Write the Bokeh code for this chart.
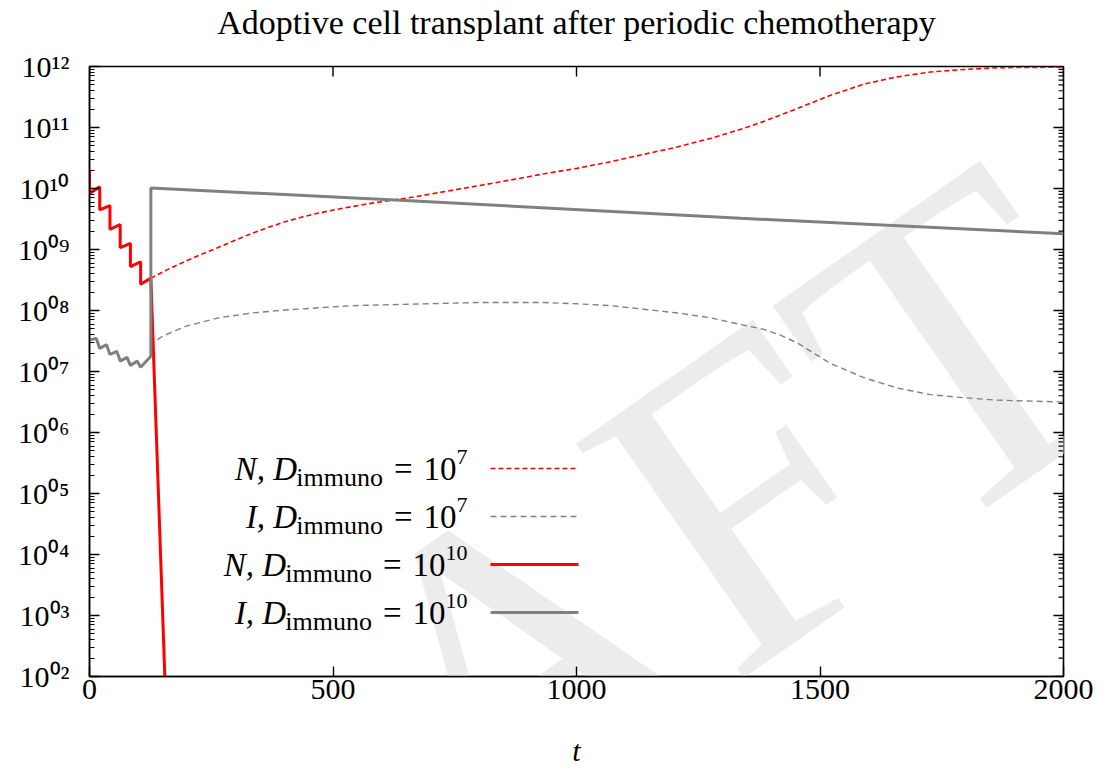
import math
from bokeh.plotting import figure
from bokeh.models import FixedTicker, Label, Arrow, LinearAxis
from bokeh.embed import file_html
from bokeh.resources import INLINE

# ---------------- data ----------------
# periodic chemotherapy phase (doses every 21 days), shared by both runs
t_chemo = [0, 0, 21, 21, 42, 42, 63, 63, 84, 84, 105, 105, 126]
N_chemo = [2.0e10, 8.3e9, 1.07e10, 4.47e9, 5.25e9, 2.14e9, 2.57e9, 1.07e9,
           1.26e9, 5.25e8, 6.3e8, 2.69e8, 3.39e8]
t_I_chemo = [0, 14, 21, 35, 42, 56, 63, 77, 84, 98, 105, 126]
I_chemo = [3.3e7, 3.47e7, 2.4e7, 2.75e7, 1.9e7, 2.14e7, 1.48e7, 1.7e7,
           1.26e7, 1.48e7, 1.17e7, 1.78e7]

# D_immuno = 1e7 after transplant
t_N7_post = [160, 195, 230, 263, 298, 332, 366, 400, 435, 469, 503, 537, 572,
             606, 636, 665, 730, 796, 865, 933, 1001, 1070, 1138, 1207, 1275,
             1337, 1385, 1453, 1522, 1590, 1658, 1727, 1795, 1864, 2000]
N7_post = [4.68e8, 6.31e8, 8.32e8, 1.07e9, 1.41e9, 1.82e9, 2.29e9, 2.82e9,
           3.39e9, 3.94e9, 4.47e9, 5.01e9, 5.62e9, 6.17e9, 6.68e9, 7.24e9,
           8.91e9, 1.10e10, 1.38e10, 1.74e10, 2.14e10, 2.75e10, 3.63e10,
           4.79e10, 6.61e10, 9.33e10, 1.26e11, 2.04e11, 3.39e11, 5.13e11,
           6.76e11, 8.13e11, 8.91e11, 9.55e11, 9.77e11]
t_I7_post = [126, 150, 197, 265, 334, 402, 539, 659, 796, 933, 1001, 1070,
             1138, 1207, 1275, 1337, 1385, 1420, 1453, 1487, 1522, 1590, 1658,
             1727, 1795, 1864, 2000]
I7_post = [2.82e7, 3.80e7, 5.50e7, 7.59e7, 9.12e7, 1.02e8, 1.20e8, 1.27e8,
           1.35e8, 1.35e8, 1.29e8, 1.20e8, 1.05e8, 9.12e7, 7.59e7, 5.89e7,
           4.90e7, 3.90e7, 2.95e7, 2.00e7, 1.35e7, 7.94e6, 5.37e6, 4.17e6,
           3.72e6, 3.39e6, 3.16e6]

# D_immuno = 1e10 after transplant
t_N10_post = [140, 160]
N10_post = [2.2e5, 6.2e0]
t_I10_post = [126, 658, 1337, 2000]
I10_post = [1.02e10, 6.3e9, 3.24e9, 1.82e9]

x_ticks = [0, 500, 1000, 1500, 2000]
y_ticks = [1e2, 1e3, 1e4, 1e5, 1e6, 1e7, 1e8, 1e9, 1e10, 1e11, 1e12]
y_tick_labels = ["10\u2070\u00b2", "10\u2070\u00b3", "10\u2070\u2074", "10\u2070\u2075",
                 "10\u2070\u2076", "10\u2070\u2077", "10\u2070\u2078", "10\u2070\u2079",
                 "10\u00b9\u2070", "10\u00b9\u00b9", "10\u00b9\u00b2"]
y_minor = [m * d for d in y_ticks[:-1] for m in range(2, 10)]

legend_names = ["N, D", "I, D", "N, D", "I, D"]
legend_exps = ["7", "7", "10", "10"]
title_text = "Adoptive cell transplant after periodic chemotherapy"

# ---------------- figure ----------------
SERIF = "Liberation Serif"
W, H = 1107, 769
FL, FT = 89, 66            # frame left / top in canvas pixels
FRAME_W, FRAME_H = 974, 612
FR = W - FL - FRAME_W
FB = H - FT - FRAME_H
x_lo, x_hi = x_ticks[0], x_ticks[-1]
y_lo, y_hi = y_ticks[0], y_ticks[-1]

p = figure(width=W, height=H, x_range=(x_lo, x_hi), y_range=(y_lo, y_hi),
           y_axis_type="log", output_backend="svg", toolbar_location=None,
           min_border_left=FL, min_border_right=FR, min_border_top=FT,
           min_border_bottom=FB)
p.grid.visible = False
p.outline_line_color = "black"
p.outline_line_width = 1.6
p.background_fill_color = "white"
p.border_fill_color = "white"

xa = p.below[0]
ya = p.left[0]

# title, set as the label of a tick-less top axis so that it sits high
top_ax = LinearAxis(ticker=FixedTicker(ticks=[], minor_ticks=[]),
                    axis_label=title_text)
top_ax.axis_label_text_font = SERIF
top_ax.axis_label_text_font_size = "34px"
top_ax.axis_label_text_font_style = "normal"
top_ax.axis_label_text_color = "black"
top_ax.axis_label_standoff = 26
top_ax.axis_line_color = None
top_ax.major_tick_line_color = None
top_ax.minor_tick_line_color = None
top_ax.major_tick_in = 0
top_ax.major_tick_out = 0
top_ax.minor_tick_in = 0
top_ax.minor_tick_out = 0
top_ax.major_label_standoff = 0
p.add_layout(top_ax, "above")

def rel_y(py):
    return (FT + FRAME_H) - py
def rel_x(px):
    return px - FL

def style_axis(ax):
    ax.axis_line_color = "black"
    ax.axis_line_width = 1.4
    ax.major_tick_line_color = "black"
    ax.major_tick_line_width = 1.4
    ax.minor_tick_line_color = "black"
    ax.minor_tick_line_width = 1.2
    ax.major_tick_in = 10
    ax.major_tick_out = 0
    ax.minor_tick_in = 5
    ax.minor_tick_out = 0
    ax.major_label_text_font = SERIF
    ax.major_label_text_font_size = "30px"
    ax.major_label_text_color = "black"

xa.ticker = FixedTicker(ticks=x_ticks, minor_ticks=[])
style_axis(xa)
xa.major_label_standoff = 3
xa.axis_label = "t"
xa.axis_label_text_font = SERIF
xa.axis_label_text_font_style = "italic"
xa.axis_label_text_font_size = "30px"
xa.axis_label_text_color = "black"
xa.axis_label_standoff = 32

ya.ticker = FixedTicker(ticks=y_ticks, minor_ticks=y_minor)
style_axis(ya)
ya.major_label_overrides = {v: s for v, s in zip(y_ticks, y_tick_labels)}
ya.major_label_standoff = 20

# mirrored inward ticks on the top and right sides (gnuplot "mirror")
dx_major = 10 * (x_hi - x_lo) / FRAME_W
dx_minor = 5 * (x_hi - x_lo) / FRAME_W
dec_px = FRAME_H / math.log10(y_hi / y_lo)
fy_major = 10 ** (10 / dec_px)
p.segment(x0=x_ticks, y0=[y_hi] * len(x_ticks), x1=x_ticks,
          y1=[y_hi / fy_major] * len(x_ticks), line_color="black", line_width=1.4)
p.segment(x0=[x_hi] * len(y_ticks), y0=y_ticks, x1=[x_hi - dx_major] * len(y_ticks),
          y1=y_ticks, line_color="black", line_width=1.4)
p.segment(x0=[x_hi] * len(y_minor), y0=y_minor, x1=[x_hi - dx_minor] * len(y_minor),
          y1=y_minor, line_color="black", line_width=1.2)

# watermark
p.add_layout(Label(x=rel_x(475), y=rel_y(686), x_units="screen", y_units="screen",
                   text="DRAFT", angle=math.radians(35), text_font=SERIF,
                   text_font_size="440px", text_color="#ececec",
                   text_align="center", text_baseline="middle",
                   level="underlay"))

RED = "#ff0000"
GREY = "#808080"
p.line(t_chemo + t_N7_post, N_chemo + N7_post, line_color=RED,
       line_width=1.6, line_dash="5 3")
p.line(t_I_chemo + t_I7_post, I_chemo + I7_post, line_color=GREY,
       line_width=1.4, line_dash="6 4")
p.line(t_chemo + t_N10_post, N_chemo + N10_post, line_color=RED,
       line_width=3)
p.line(t_I_chemo + t_I10_post, I_chemo + I10_post, line_color=GREY,
       line_width=3)

# ---------------- legend (manual, gnuplot style) ----------------
styles = [dict(line_color=RED, line_width=1.6, line_dash="5 3"),
          dict(line_color=GREY, line_width=1.4, line_dash="6 4"),
          dict(line_color=RED, line_width=3, line_dash="solid"),
          dict(line_color=GREY, line_width=3, line_dash="solid")]

def lab(text, x, y, size, align, style="normal"):
    p.add_layout(Label(x=rel_x(x), y=rel_y(y), x_units="screen",
                       y_units="screen", text=text, text_font=SERIF,
                       text_font_size=f"{size}px", text_font_style=style,
                       text_color="black", text_align=align,
                       text_baseline="middle"))

x_end = 467
fs_main, fs_sub, fs_sup = 33, 26, 22
for i in range(4):
    ly = 470 + 48 * i
    exp = legend_exps[i]
    exp_left = x_end - len(exp) * 0.5 * fs_sup
    ten_left = exp_left - fs_main
    eq_right = ten_left - 11
    eq_left = eq_right - 0.564 * fs_main
    sub_right = eq_left - 11
    sub_left = sub_right - 3.334 * fs_sub
    lab(exp, exp_left, ly - 12, fs_sup, "left")
    lab("10", exp_left, ly, fs_main, "right")
    lab("=", eq_right, ly, fs_main, "right")
    lab("immuno", sub_right, ly + 9, fs_sub, "right")
    lab(legend_names[i], sub_left + 1, ly, fs_main, "right", "italic")
    p.add_layout(Arrow(start=None, end=None, x_start=rel_x(490), y_start=rel_y(ly),
                       x_end=rel_x(578), y_end=rel_y(ly), start_units="screen",
                       end_units="screen", **styles[i]))

open("out.html", "w").write(file_html(p, INLINE))
